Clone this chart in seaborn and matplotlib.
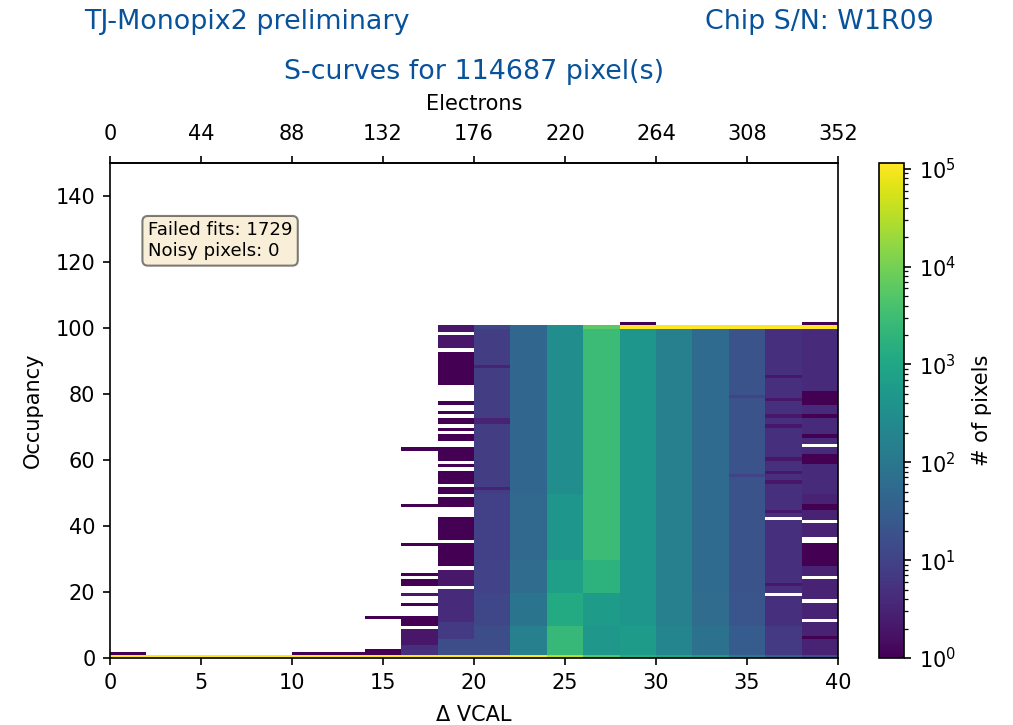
import numpy as np
import pandas as pd
import matplotlib
matplotlib.use("Agg")
import matplotlib.pyplot as plt
import seaborn as sns
from matplotlib.colors import LogNorm

n_pixels = 114687
failed_fits = 1729
noisy_pixels = 0
chip_sn = "W1R09"
blue = "#07529a"

# Δ VCAL bins are 2 wide, occupancy bins 1 wide
vcal_edges = [0, 2, 4, 6, 8, 10, 12, 14, 16, 18, 20, 22, 24, 26, 28, 30, 32, 34, 36, 38, 40]
electron_ticks = [0, 44, 88, 132, 176, 220, 264, 308, 352]

# occupancy == 0 row, per Δ VCAL bin (left edge)
row0_vcal = [0, 2, 4, 6, 8, 10, 12, 14, 16, 18, 20, 22, 24, 26, 28, 30, 32, 34, 36, 38]
row0_count = [114686, 114687, 114687, 114687, 114687, 114686, 114686, 114684, 114650, 113400,
              111000, 105000, 35000, 5000, 1500, 1000, 600, 100, 30, 15]

# columns that are filled over the whole occupancy range
full_vcal = [20, 22, 24, 26, 28, 30, 32, 34, 36, 38]
band_first = [1, 10, 20, 30, 50]
band_last = [9, 19, 29, 49, 99]
cnt_occ_1_9 = [15, 150, 2500, 500, 600, 200, 80, 28, 7, 3]
cnt_occ_10_19 = [12, 90, 1200, 600, 450, 150, 60, 22, 5, 3]
cnt_occ_20_29 = [10, 60, 700, 1800, 450, 150, 55, 20, 5, 3]
cnt_occ_30_49 = [9, 50, 450, 2800, 450, 150, 55, 20, 5, 3]
cnt_occ_50_99 = [8, 45, 300, 2800, 450, 150, 55, 20, 5, 4]
cnt_occ_100 = [12, 45, 300, 6000, 105000, 110000, 112000, 114000, 114500, 114600]

# single rows that differ from the band value (0 = empty)
adj_vcal = [20, 20, 20, 20, 34, 34,
            36, 36, 36, 36, 36, 36, 36, 36, 36, 36, 36,
            38, 38, 38, 38, 38, 38, 38, 38, 38, 38, 38, 38, 38, 38, 38, 38, 38, 38, 38,
            38, 38, 38, 38, 38, 38, 38]
adj_occ = [51, 71, 72, 88, 55, 79,
           22, 44, 53, 56, 60, 70, 73, 78, 85, 19, 42,
           6, 28, 29, 30, 31, 32, 33, 34, 45, 46, 59, 60, 61, 67, 73, 77, 78, 79, 80,
           11, 17, 24, 35, 36, 41, 64]
adj_count = [3, 3, 3, 3, 10, 10,
             2, 2, 2, 2, 2, 2, 2, 2, 2, 0, 0,
             1, 1, 1, 1, 1, 1, 1, 1, 1, 1, 1, 1, 1, 1, 1, 1, 1, 1, 1,
             0, 0, 0, 0, 0, 0, 0]

# sparse runs below threshold: (vcal bin, first occ, last occ, count)
run_vcal = [0, 10, 12, 14, 14,
            16, 16, 16, 16, 16, 16, 16, 16, 16, 16,
            18, 18, 18, 18, 18, 18, 18, 18, 18, 18, 18, 18, 18, 18, 18, 18, 18, 18, 18,
            28, 38]
run_first = [1, 1, 1, 1, 12,
             1, 4, 10, 16, 19, 22, 25, 34, 46, 63,
             1, 6, 11, 22, 28, 36, 46, 50, 53, 58, 60, 66, 69, 71, 74, 77, 83, 94, 99,
             101, 101]
run_last = [1, 1, 1, 2, 12,
            3, 8, 12, 16, 19, 23, 25, 34, 46, 63,
            5, 10, 20, 26, 34, 42, 48, 51, 56, 58, 63, 67, 69, 72, 74, 77, 92, 97, 100,
            101, 101]
run_count = [1, 1, 1, 1, 1,
             5, 2, 1, 1, 2, 1, 1, 1, 1, 1,
             15, 7, 4, 2, 1, 1, 1, 1, 1, 1, 1, 1, 1, 1, 1, 1, 1, 2, 2,
             1, 1]

# ---- long form table for the 2d histogram
rec = []
for v, c in zip(row0_vcal, row0_count):
    rec.append((v + 1, 0, c))
bands = [cnt_occ_1_9, cnt_occ_10_19, cnt_occ_20_29, cnt_occ_30_49, cnt_occ_50_99]
for i, v in enumerate(full_vcal):
    for lo, hi, cnt in zip(band_first, band_last, bands):
        for o in range(lo, hi + 1):
            rec.append((v + 1, o, cnt[i]))
    rec.append((v + 1, 100, cnt_occ_100[i]))
df = pd.DataFrame(rec, columns=["vcal", "occ", "count"]).astype(float)
for v, o, c in zip(adj_vcal, adj_occ, adj_count):
    df.loc[(df.vcal == v + 1) & (df.occ == o), "count"] = c

rec = []
for v, lo, hi, c in zip(run_vcal, run_first, run_last, run_count):
    for o in range(lo, hi + 1):
        rec.append((v + 1, o, c))
df = pd.concat([df, pd.DataFrame(rec, columns=["vcal", "occ", "count"])], ignore_index=True)

# occupancy bins sit slightly above the integer value, like in the original plot
occ_edges = np.arange(-0.2, 102.8, 1.0)

W, H = 1013, 725
fig = plt.figure(figsize=(W / 150, H / 150), dpi=150)
ax = fig.add_axes([110 / W, 1 - 658 / H, 728 / W, 495 / H])
cax = fig.add_axes([879 / W, 1 - 658 / H, 25 / W, 495 / H])

sns.histplot(data=df, x="vcal", y="occ", weights="count",
             bins=[np.array(vcal_edges, dtype=float), occ_edges],
             cmap="viridis", cbar=False, ax=ax)
mesh = ax.collections[0]
mesh.set_norm(LogNorm(vmin=1, vmax=n_pixels))
cb = fig.colorbar(mesh, cax=cax)
cb.set_label("# of pixels", labelpad=8)

ax.set_xlim(0, 40)
ax.set_ylim(0, 150)
ax.set_xlabel("\u0394 VCAL", labelpad=6)
ax.set_ylabel("Occupancy", labelpad=6)

sec = ax.secondary_xaxis("top", functions=(lambda x: x * 8.8, lambda x: x / 8.8))
sec.set_xticks(electron_ticks)
sec.tick_params(pad=5.5)
sec.set_xlabel("Electrons", labelpad=7)

ax.text(0.052, 0.882, "Failed fits: {}\nNoisy pixels: {}".format(failed_fits, noisy_pixels),
        transform=ax.transAxes, fontsize=8.7, va="top",
        bbox=dict(boxstyle="round", facecolor="wheat", alpha=0.5))

fig.text(84 / W, 1 - 22 / H, "TJ-Monopix2 preliminary", color=blue, fontsize=12.9, va="center")
fig.text(934 / W, 1 - 22 / H, "Chip S/N: " + chip_sn, color=blue, fontsize=12.9, va="center", ha="right")
fig.text(474 / W, 1 - 72 / H, "S-curves for {} pixel(s)".format(n_pixels), color=blue,
         fontsize=12.9, va="center", ha="center")

fig.savefig("out.png", dpi=150)
